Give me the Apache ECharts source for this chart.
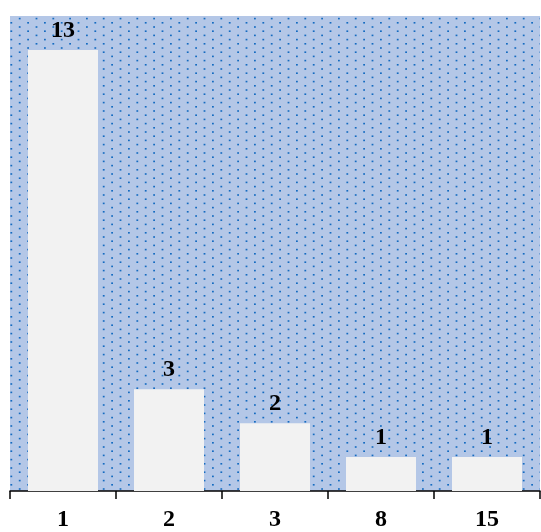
<!DOCTYPE html>
<html><head><meta charset="utf-8">
<script src="https://cdn.jsdelivr.net/npm/echarts@6/dist/echarts.min.js"></script>
<style>html,body{margin:0;padding:0;background:#fff}#c{width:541px;height:532px}</style>
</head><body><div id="c"></div>
<script>
const categories = ['1', '2', '3', '8', '15'];
const values = [13, 3, 2, 1, 1];

// dotted fill tile: diamond lattice, columns 8.4 px apart, dots 8.4 px apart in a column,
// neighbouring columns shifted by 4.2 px
const tile = document.createElement('canvas');
tile.width = 84; tile.height = 42;
const g = tile.getContext('2d');
g.fillStyle = '#b4c7e7';
g.fillRect(0, 0, 84, 42);
g.fillStyle = '#156bc0';
for (let i = 0; i < 10; i++) {
  for (let j = 0; j < 5; j++) {
    const x = i * 8.4 + 2;
    const y = j * 8.4 + (i % 2 ? 4.2 : 0) + 1;
    g.fillRect(x, y, 1.8, 1.6);
  }
}

const chart = echarts.init(document.getElementById('c'));
chart.setOption({
  animation: false,
  backgroundColor: '#ffffff',
  grid: {
    left: 10, right: 1, top: 16, bottom: 40,
    show: true, borderWidth: 0,
    backgroundColor: { image: tile, repeat: 'repeat' }
  },
  xAxis: {
    type: 'category',
    data: categories,
    axisLine: { lineStyle: { color: '#000', width: 1.5 } },
    axisTick: { show: true, length: 8, lineStyle: { color: '#000', width: 1.5 } },
    axisLabel: {
      margin: 17, color: '#000',
      fontFamily: 'Liberation Serif', fontWeight: 'bold', fontSize: 24
    }
  },
  yAxis: {
    type: 'value', min: 0, max: 14,
    show: false, splitLine: { show: false }
  },
  series: [{
    type: 'bar',
    data: values,
    barWidth: 70,
    itemStyle: { color: '#f2f2f2' },
    label: {
      show: true, position: 'top', distance: 7, color: '#000',
      fontFamily: 'Liberation Serif', fontWeight: 'bold', fontSize: 24
    }
  }]
});
</script></body></html>
